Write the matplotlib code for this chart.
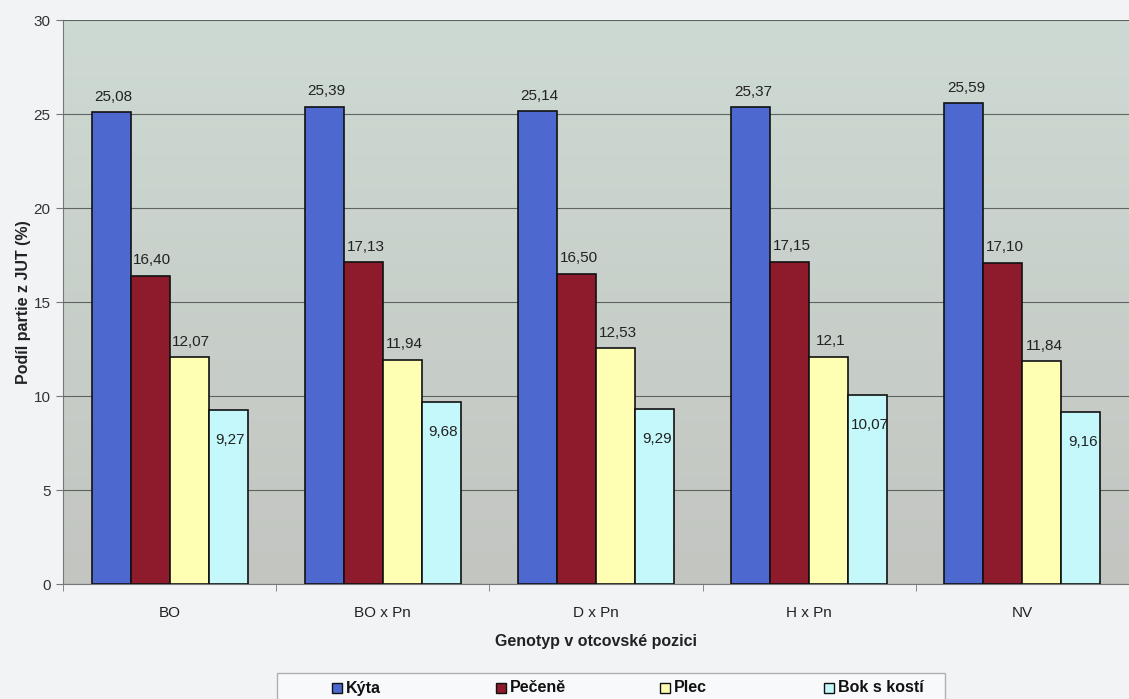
import numpy as np
import matplotlib
matplotlib.use("Agg")
import matplotlib.pyplot as plt
from matplotlib.colors import LinearSegmentedColormap
from matplotlib.patches import Rectangle

plt.rcParams['font.family'] = ['Liberation Sans', 'DejaVu Sans']

# data
genotypy = ['BO', 'BO x Pn', 'D x Pn', 'H x Pn', 'NV']
partie = ['Kýta', 'Pečeně', 'Plec', 'Bok s kostí']
kyta = [25.08, 25.39, 25.14, 25.37, 25.59]
pecene = [16.40, 17.13, 16.50, 17.15, 17.10]
plec = [12.07, 11.94, 12.53, 12.10, 11.84]
bok = [9.27, 9.68, 9.29, 10.07, 9.16]
popisky = [
    ['25,08', '25,39', '25,14', '25,37', '25,59'],
    ['16,40', '17,13', '16,50', '17,15', '17,10'],
    ['12,07', '11,94', '12,53', '12,1', '11,84'],
    ['9,27', '9,68', '9,29', '10,07', '9,16'],
]

barvy = ['#4d68cf', '#8e1b2c', '#ffffb4', '#c4f8fa']
serie = [kyta, pecene, plec, bok]

W, H = 1129, 699
fig = plt.figure(figsize=(W / 100, H / 100), dpi=100, facecolor='#f1f3f5')
ax = fig.add_axes([63 / W, 1 - 584 / H, 1 - 63 / W, (584 - 20) / H])

# plocha grafu s jemnym prechodem
grad = LinearSegmentedColormap.from_list('pozadi', ['#c3c5c1', '#cddad3'])
ax.imshow(np.linspace(0, 1, 100).reshape(-1, 1), cmap=grad, origin='lower',
          extent=(-0.5, 4.5, 0, 30), aspect='auto', zorder=0)

x = np.arange(len(genotypy))
w = 0.183
for i, (vals, col) in enumerate(zip(serie, barvy)):
    pos = x + (i - 1.5) * w
    ax.bar(pos, vals, width=w, color=col, edgecolor='#111111', linewidth=1.2, zorder=3)
    for xp, v, t in zip(pos, vals, popisky[i]):
        if i == 3:
            ax.text(xp + 0.01, v - 1.6, t, ha='center', va='center',
                    fontsize=11, color='#222222', zorder=4)
        else:
            ax.annotate(t, (xp + 0.01, v), xytext=(0, 6), textcoords='offset points',
                        ha='center', va='bottom', fontsize=11, color='#222222', zorder=4)

ax.set_xlim(-0.5, 4.5)
ax.set_ylim(0, 30)
ax.set_yticks(range(0, 31, 5))
ax.yaxis.grid(True, color='#5f6361', linewidth=0.8, zorder=1)
ax.set_axisbelow(False)

ax.set_xticks(x)
ax.set_xticklabels(genotypy)
ax.set_xticks(np.arange(-0.5, 5, 1), minor=True)
ax.tick_params(axis='x', which='major', length=0, pad=16, labelsize=11, labelcolor='#222222')
ax.tick_params(axis='x', which='minor', length=5, color='#777777')
ax.tick_params(axis='y', length=5, color='#777777', labelsize=11, labelcolor='#333333', pad=4)

for s in ['top', 'right']:
    ax.spines[s].set_visible(False)
ax.spines['left'].set_color('#777777')
ax.spines['bottom'].set_color('#777777')

ax.set_ylabel('Podíl partie z JUT (%)', fontsize=11.5, fontweight='bold', color='#222222', labelpad=2)
ax.set_xlabel('Genotyp v otcovské pozici', fontsize=11.5, fontweight='bold', color='#222222', labelpad=10)

# legenda pod grafem - ramecek a ctyri rovnomerne rozmistene polozky
fig.patches.append(Rectangle((277 / W, -0.05), (945 - 277) / W, 0.05 + (H - 673) / H,
                             transform=fig.transFigure, facecolor='#f8f9fa',
                             edgecolor='#b0b0b0', linewidth=1.0, zorder=1))
for k, (nazev, col) in enumerate(zip(partie, barvy)):
    x0 = 332 + k * 164
    fig.patches.append(Rectangle((x0 / W, (H - 693) / H), 10 / W, 10 / H,
                                 transform=fig.transFigure, facecolor=col,
                                 edgecolor='#111111', linewidth=1.0, zorder=2))
    fig.text((x0 + 14) / W, (H - 688) / H, nazev, ha='left', va='center',
             fontsize=11.5, fontweight='bold', color='#111111')

fig.savefig('out.png', dpi=100, facecolor=fig.get_facecolor())
